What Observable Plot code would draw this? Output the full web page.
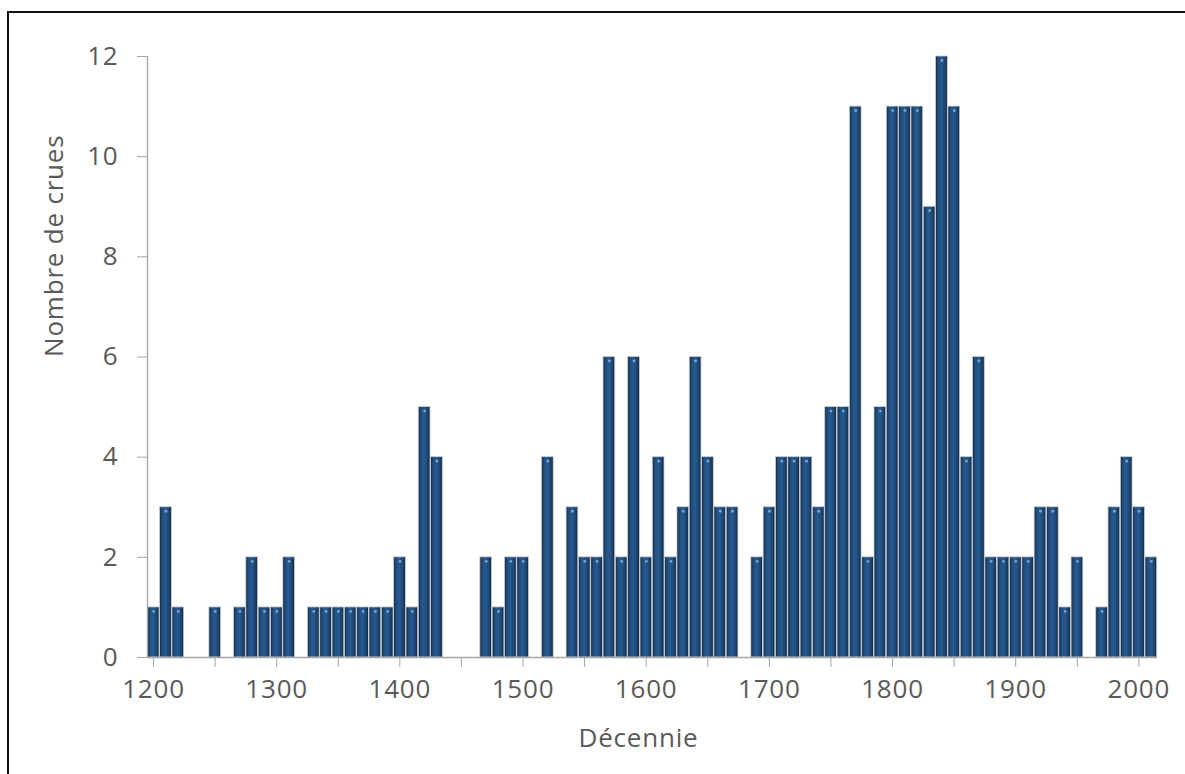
<!DOCTYPE html>
<html><head><meta charset="utf-8">
<script src="https://cdn.jsdelivr.net/npm/d3@7"></script>
<script src="https://cdn.jsdelivr.net/npm/@observablehq/plot@0.6"></script>
<style>
body{margin:0;background:#fff;}
#wrap{position:relative;width:1185px;height:774px;overflow:hidden;background:#fff;}
#frame{position:absolute;left:7px;top:11px;width:1300px;height:900px;border-top:2px solid #111;border-left:2px solid #111;box-sizing:border-box;}
#chart{position:absolute;left:0;top:0;}
#chart svg text{letter-spacing:0.8px;}
#chart svg g[aria-label="x-axis tick"], #chart svg g[aria-label="y-axis tick"]{stroke:#a6a6a6;}
</style></head><body>
<div id="wrap"><div id="frame"></div><div id="chart"></div></div>
<script>
const decades = [1200,1210,1220,1250,1270,1280,1290,1300,1310,1330,1340,1350,1360,1370,1380,1390,1400,1410,1420,1430,
  1470,1480,1490,1500,1520,1540,1550,1560,1570,1580,1590,1600,1610,1620,1630,1640,1650,1660,1670,
  1690,1700,1710,1720,1730,1740,1750,1760,1770,1780,1790,1800,1810,1820,1830,1840,1850,1860,1870,1880,1890,
  1900,1910,1920,1930,1940,1950,1970,1980,1990,2000,2010];
const counts = [1,3,1,1,1,2,1,1,2,1,1,1,1,1,1,1,2,1,5,4,
  2,1,2,2,4,3,2,2,6,2,6,2,4,2,3,6,4,3,3,
  2,3,4,4,4,3,5,5,11,2,5,11,11,11,9,12,11,4,6,2,2,
  2,2,3,3,1,2,1,3,4,3,2];
const xTicks = d3.range(1200, 2001, 50);
const yTicks = [0,2,4,6,8,10,12];
const xTitle = "Décennie";
const yTitle = "Nombre de crues";

const data = decades.map((d,i) => ({start: d, end: d + 10, mid: d + 5, n: counts[i]}));

const chart = Plot.plot({
  width: 1185, height: 774,
  marginLeft: 147, marginRight: 28, marginTop: 56, marginBottom: 117,
  style: {fontFamily: "'Open Sans', sans-serif", fontSize: "26px", color: "#595959", background: "transparent", overflow: "visible"},
  x: {domain: [1200, 2020]},
  y: {domain: [0, 12]},
  marks: [
    Plot.rectY(data, {x1: "start", x2: "end", y: "n", fill: "url(#barGrad)", stroke: "#c9ced4", strokeWidth: 0.8, insetLeft: 0.3, insetRight: 0.3}),
    Plot.dot(data, {x: "mid", y: "n", r: 1.4, fill: "#7ea5cc", dy: 4}),
    Plot.ruleY([0], {stroke: "#a6a6a6", strokeWidth: 1.3}),
    Plot.ruleX([1200], {y1: 0, y2: 12, stroke: "#a6a6a6", strokeWidth: 1.3}),
    Plot.axisX({ticks: xTicks, tickFormat: d => d % 100 === 0 ? String(d) : "", tickSize: 10, tickPadding: 12, dx: 6, label: null, fontSize: 26}),
    Plot.axisY({ticks: yTicks, tickSize: 10, tickPadding: 19, label: null, fontSize: 26}),
    Plot.text([xTitle], {frameAnchor: "bottom", dy: 89, dx: -14, fill: "#595959", fontSize: 26}),
    Plot.text([yTitle], {frameAnchor: "left", dx: -93, rotate: -90, fill: "#595959", fontSize: 26})
  ]
});

const ns = "http://www.w3.org/2000/svg";
const defs = document.createElementNS(ns, "defs");
defs.innerHTML = `<linearGradient id="barGrad" x1="0" x2="1" y1="0" y2="0">
  <stop offset="0" stop-color="#132a45"/>
  <stop offset="0.25" stop-color="#225183"/>
  <stop offset="0.5" stop-color="#275a8f"/>
  <stop offset="0.8" stop-color="#1d4571"/>
  <stop offset="1" stop-color="#10243b"/>
</linearGradient>`;
chart.insertBefore(defs, chart.firstChild);
d3.select(chart).selectAll('g[aria-label="rect"]').attr("fill", "url(#barGrad)");
document.getElementById("chart").appendChild(chart);
</script>
</body></html>
